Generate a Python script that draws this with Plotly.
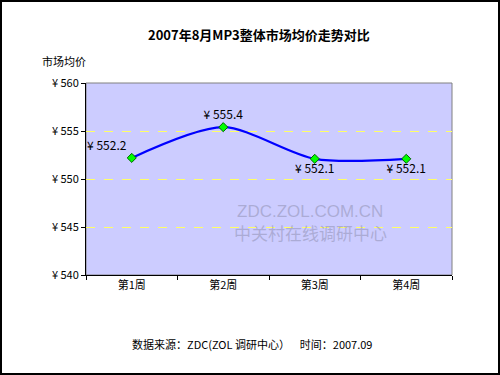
import plotly.graph_objects as go

categories = ["第1周", "第2周", "第3周", "第4周"]
prices = [552.2, 555.4, 552.1, 552.1]
label_positions = ["top left", "top center", "bottom center", "bottom center"]
y_ticks = [540, 545, 550, 555, 560]

FONT = "Noto Sans CJK SC, Liberation Sans, sans-serif"

fig = go.Figure()
fig.add_trace(go.Scatter(
    x=categories, y=prices,
    mode="lines+markers+text",
    line=dict(color="#0000FF", width=2.2, shape="spline", smoothing=0.8),
    marker=dict(symbol="diamond", size=7, color="#00FF00", line=dict(color="#006600", width=1)),
    text=["¥ %.1f" % v for v in prices],
    textposition=label_positions,
    textfont=dict(family=FONT, size=12, color="#000000"),
    cliponaxis=False,
    hoverinfo="skip",
))

L, R, T, B = 86, 48, 83, 100
W, H = 500, 375
pw, ph = W - L - R, H - T - B

fig.update_layout(
    width=W, height=H,
    margin=dict(l=L, r=R, t=T, b=B),
    paper_bgcolor="#FFFFFF",
    plot_bgcolor="#CCCCFF",
    showlegend=False,
    font=dict(family=FONT, size=11, color="#000000"),
    xaxis=dict(
        type="category", range=[-0.5, 3.5],
        showgrid=False, showline=True, linecolor="#000000", linewidth=1,
        ticks="outside", ticklen=4, tickcolor="#000000",
        tickson="boundaries",
        tickfont=dict(family=FONT, size=11),
        mirror=False, zeroline=False,
    ),
    yaxis=dict(
        range=[540, 560], tickvals=y_ticks,
        ticktext=["¥ %d" % v for v in y_ticks],
        showgrid=True, gridcolor="#FFFF66", griddash="dash", gridwidth=1,
        showline=True, linecolor="#000000", linewidth=1,
        ticks="outside", ticklen=4, tickcolor="#000000",
        tickfont=dict(family=FONT, size=11),
        zeroline=False,
    ),
)

# plot area border (gray)
fig.add_shape(type="rect", xref="paper", yref="paper", x0=0, x1=1, y0=0, y1=1,
              line=dict(color="#808080", width=1), layer="below")

# outer black frame
fig.add_shape(type="rect", xref="paper", yref="paper",
              x0=(1 - L) / pw, x1=(W - 1 - L) / pw,
              y0=-(H - 1 - T - ph) / ph, y1=1 + (T - 1) / ph,
              line=dict(color="#000000", width=2))

def px(x):
    return (x - L) / pw

def py(y):
    return 1 - (y - T) / ph

def note(text, x, y, size, family=FONT, color="#000000"):
    fig.add_annotation(text=text, xref="paper", yref="paper",
                       x=px(x), y=py(y), xanchor="center", yanchor="middle",
                       showarrow=False, font=dict(family=family, size=size, color=color))

note("<b>2007年8月MP3整体市场均价走势对比</b>", 259, 34, 13)
note("市场均价", 64, 61, 11)
note("ZDC.ZOL.COM.CN", 310, 211, 17, "Liberation Sans, sans-serif", "rgba(150,150,185,0.6)")
note("中关村在线调研中心", 310, 232, 17, FONT, "rgba(150,150,185,0.6)")
note("数据来源：ZDC(ZOL 调研中心）    时间：2007.09", 252, 344, 11)

fig.write_html("out.html", config={"displayModeBar": False},
               post_script="document.body.style.margin='0';document.body.style.padding='0';")
